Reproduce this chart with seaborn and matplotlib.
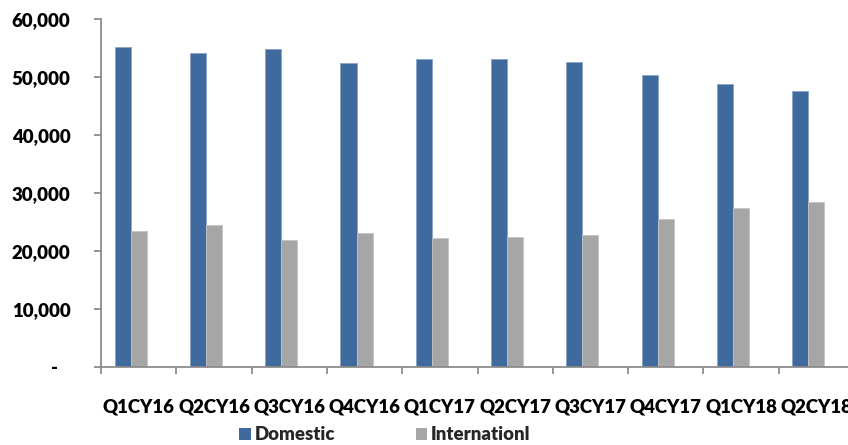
import matplotlib
matplotlib.use("Agg")
import matplotlib.pyplot as plt
from matplotlib.patches import Patch
from matplotlib.ticker import FixedLocator
import seaborn as sns
import pandas as pd
import numpy as np

quarters = ["Q1CY16", "Q2CY16", "Q3CY16", "Q4CY16", "Q1CY17",
            "Q2CY17", "Q3CY17", "Q4CY17", "Q1CY18", "Q2CY18"]
domestic = [55300, 54200, 54900, 52500, 53100, 53100, 52600, 50400, 48900, 47600]
international = [23400, 24500, 22000, 23100, 22300, 22400, 22800, 25600, 27500, 28500]
series_names = ["Domestic", "Internationl"]
y_ticks = [0, 10000, 20000, 30000, 40000, 50000, 60000]
y_tick_labels = ["-   ", "10,000", "20,000", "30,000", "40,000", "50,000", "60,000"]

blue = "#3F6A9D"
gray = "#A6A6A6"
weight = "heavy"
fsize = 13.4

df = pd.DataFrame({
    "quarter": quarters * 2,
    "value": domestic + international,
    "series": [series_names[0]] * len(quarters) + [series_names[1]] * len(quarters),
})

sns.set_style("white")
plt.rcParams["font.family"] = ["Lato", "DejaVu Sans"]
plt.rcParams["font.weight"] = weight

fig = plt.figure(figsize=(8.48, 4.45), dpi=100)
ax = fig.add_axes([101 / 848, 78 / 445, 753 / 848, 347.5 / 445])

# third (empty) slot keeps the two bars to the left of each category centre
sns.barplot(data=df, x="quarter", y="value", hue="series",
            hue_order=series_names + ["_spacer"],
            palette=[blue, gray, "white"], width=0.64, saturation=1,
            legend=False, ax=ax, linewidth=0.6)
for p in ax.patches:
    fc = p.get_facecolor()
    if abs(fc[0] - int(blue[1:3], 16) / 255) < 0.02:
        p.set_edgecolor("#8AA4C8")
    else:
        p.set_edgecolor("#C4C4C4")

ax.set_xlim(-0.5, len(quarters) - 0.5)
ax.set_ylim(0, 60000)
ax.set_yticks(y_ticks)
ax.set_yticklabels(y_tick_labels)
ax.set_xlabel("")
ax.set_ylabel("")

for s in ["top", "right"]:
    ax.spines[s].set_visible(False)
for s in ["left", "bottom"]:
    ax.spines[s].set_color("#8C8C8C")
    ax.spines[s].set_linewidth(1.3)

ax.xaxis.set_minor_locator(FixedLocator(np.arange(-0.5, len(quarters), 1.0)))
ax.tick_params(axis="x", which="major", length=0, pad=23, labelsize=fsize)
ax.tick_params(axis="x", which="minor", length=5, width=1.3, color="#8C8C8C", direction="out", bottom=True)
ax.tick_params(axis="y", which="major", length=5, width=1.3, color="#8C8C8C", direction="out",
               pad=17, labelsize=fsize, left=True)
for lab in ax.get_xticklabels() + ax.get_yticklabels():
    lab.set_fontweight(weight)
    lab.set_color("#000000")

handles = [Patch(facecolor=blue, edgecolor="none"), Patch(facecolor=gray, edgecolor="none")]
leg = fig.legend(handles, series_names, loc="lower center", bbox_to_anchor=(0.454, -0.034),
                 ncol=2, frameon=False, prop={"weight": weight, "size": fsize},
                 handlelength=0.62, handleheight=0.62, handletextpad=0.22, columnspacing=4.3)

fig.savefig("out.png", dpi=100)
